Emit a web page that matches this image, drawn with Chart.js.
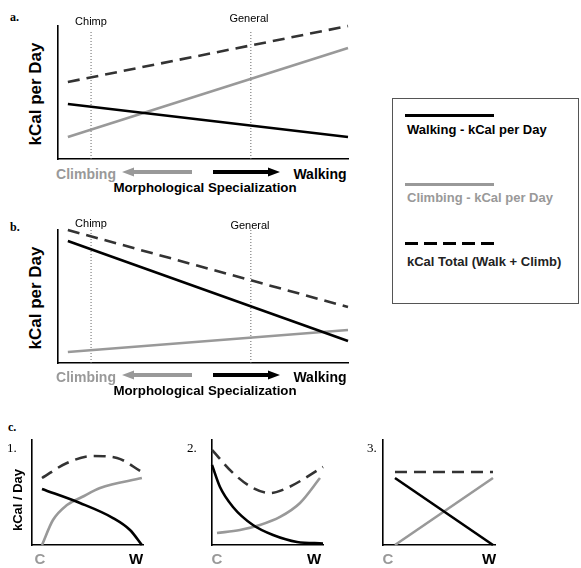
<!DOCTYPE html>
<html>
<head>
<meta charset="utf-8">
<script src="https://cdn.jsdelivr.net/npm/chart.js@4.4.1/dist/chart.umd.min.js"></script>
<style>
  body{margin:0;background:#fff;}
  #fig{position:relative;width:581px;height:568px;overflow:hidden;font-family:"Liberation Sans",Arial,sans-serif;}
  #fig canvas{position:absolute;}
  .t{position:absolute;white-space:nowrap;line-height:1;}
  .serif{font-family:"Liberation Serif","Times New Roman",serif;font-weight:bold;font-size:12px;}
  .b{font-weight:bold;}
  .gray{color:#999;}
  .rot{transform:translate(-50%,-50%) rotate(-90deg);}
  .ctr{transform:translate(-50%,-50%);}
  .leg{position:absolute;left:392px;top:98px;width:185px;height:204px;border:1px solid #555;}
  .ll{position:absolute;left:12px;width:89px;height:3px;}
  .lt{position:absolute;left:14px;font-weight:bold;font-size:13px;white-space:nowrap;line-height:1;}
</style>
</head>
<body>
<div id="fig">
  <canvas id="ca" width="306" height="146" style="left:50px;top:20px"></canvas>
  <canvas id="cb" width="306" height="146" style="left:50px;top:224px"></canvas>
  <canvas id="c1" width="127" height="121" style="left:24px;top:432px"></canvas>
  <canvas id="c2" width="127" height="121" style="left:204px;top:432px"></canvas>
  <canvas id="c3" width="128" height="121" style="left:375px;top:432px"></canvas>

  <!-- panel a text -->
  <div class="t serif" style="left:10px;top:11px">a.</div>
  <div class="t ctr" style="left:91px;top:21px;font-size:11px">Chimp</div>
  <div class="t ctr" style="left:249px;top:18px;font-size:11px">General</div>
  <div class="t b rot" style="left:35px;top:94px;font-size:17px">kCal per Day</div>
  <div class="t b gray ctr" style="left:86px;top:174px;font-size:14px">Climbing</div>
  <div class="t b ctr" style="left:320px;top:174px;font-size:14px">Walking</div>
  <div class="t b ctr" style="left:205px;top:188px;font-size:13.3px">Morphological Specialization</div>
  <svg style="position:absolute;left:120px;top:165px" width="165" height="14">
    <polygon points="2,7 14,2.5 14,5 72,5 72,9 14,9 14,11.5" fill="#999"/>
    <polygon points="160,7 148,2.5 148,5 93,5 93,9 148,9 148,11.5" fill="#000"/>
  </svg>

  <!-- panel b text -->
  <div class="t serif" style="left:10px;top:221px">b.</div>
  <div class="t ctr" style="left:91px;top:223px;font-size:11px">Chimp</div>
  <div class="t ctr" style="left:250px;top:225px;font-size:11px">General</div>
  <div class="t b rot" style="left:35px;top:298px;font-size:17px">kCal per Day</div>
  <div class="t b gray ctr" style="left:86px;top:377px;font-size:14px">Climbing</div>
  <div class="t b ctr" style="left:320px;top:377px;font-size:14px">Walking</div>
  <div class="t b ctr" style="left:205px;top:391px;font-size:13.3px">Morphological Specialization</div>
  <svg style="position:absolute;left:120px;top:368px" width="165" height="14">
    <polygon points="2,7 14,2.5 14,5 72,5 72,9 14,9 14,11.5" fill="#999"/>
    <polygon points="160,7 148,2.5 148,5 93,5 93,9 148,9 148,11.5" fill="#000"/>
  </svg>

  <!-- legend -->
  <div class="leg">
    <div class="ll" style="top:15px;background:#000"></div>
    <div class="lt" style="top:24px;color:#000">Walking - kCal per Day</div>
    <div class="ll" style="top:84px;background:#999"></div>
    <div class="lt" style="top:92px;color:#999">Climbing - kCal per Day</div>
    <div class="ll" style="top:143px;background:repeating-linear-gradient(90deg,#000 0 13px,transparent 13px 19px)"></div>
    <div class="lt" style="top:156px;color:#222">kCal Total (Walk + Climb)</div>
  </div>

  <!-- panel c text -->
  <div class="t serif" style="left:8px;top:421px">c.</div>
  <div class="t serif" style="left:7px;top:441px;font-weight:normal;font-size:13px">1.</div>
  <div class="t serif" style="left:187px;top:441px;font-weight:normal;font-size:13px">2.</div>
  <div class="t serif" style="left:367px;top:441px;font-weight:normal;font-size:13px">3.</div>
  <div class="t b rot" style="left:17px;top:500px;font-size:13px">kCal / Day</div>
  <div class="t b gray ctr" style="left:40px;top:558px;font-size:15px">C</div>
  <div class="t b ctr" style="left:136px;top:558px;font-size:15px">W</div>
  <div class="t b gray ctr" style="left:217px;top:558px;font-size:15px">C</div>
  <div class="t b ctr" style="left:314px;top:558px;font-size:15px">W</div>
  <div class="t b gray ctr" style="left:388px;top:558px;font-size:15px">C</div>
  <div class="t b ctr" style="left:489px;top:558px;font-size:15px">W</div>
</div>
<script>
// x positions along morphological specialization (0 = climbing, 100 = walking)
const xEnds = [3.4, 100];
const markerNames = ['Chimp', 'General'];
const markerX = [11.4, 66.5];

// panel a
const aWalk = [41.4, 16.5];
const aClimb = [16.5, 83.5];
const aTotal = [57.9, 100];
const aMarkerTop = 96;

// panel b
const bWalk = [91.7, 16.5];
const bClimb = [8.3, 24.8];
const bTotal = [100, 42.1];
const bMarkerTop = 100;

// panel c, [x, y]
const c1Walk  = [[9,53.3],[43.2,40],[73,25.7],[88.3,14.3],[99,0]];
const c1Climb = [[9,0],[18.9,23.8],[31.5,38.1],[45,45.7],[61.3,54.3],[99,63.8]];
const c1Total = [[9,63.8],[31.5,78.1],[55,84.8],[76.6,82.9],[99,69.5]];

const c2Walk  = [[0,76.2],[7.2,55.2],[18.9,36.2],[36.9,19],[55,9.5],[76.6,2.9],[100,1.5]];
const c2Climb = [[4.5,11.4],[25.2,14.3],[43.2,19],[61.3,26.7],[79.3,40],[97.3,63.8]];
const c2Total = [[0,90.5],[18.9,68.6],[36.9,54.3],[52.3,49.5],[67.6,54.3],[100,74.3]];

const c3Walk  = [[10.7,63.8],[98.2,0]];
const c3Climb = [[10.7,0],[98.2,63.8]];
const c3Total = [[10.7,69.5],[98.2,69.5]];

const BLACK = '#000', GRAY = '#999', DASH = '#333';

function pts(xs, ys){ return xs.map((x,i)=>({x, y: ys[i]})); }
function pairs(arr){ return arr.map(p=>({x:p[0], y:p[1]})); }

function line(data, color, dashed, curved){
  return {
    data, borderColor: color, borderWidth: 2.6, pointRadius: 0, fill: false, clip: false,
    borderDash: dashed ? [12,7] : [],
    cubicInterpolationMode: curved ? 'monotone' : 'default', borderCapStyle: 'butt'
  };
}
function marker(x, top){
  return { data: [{x, y:0},{x, y: top}], borderColor:'#666', borderWidth:1, borderDash:[1,2],
    pointRadius:0, fill:false, clip:false, order: 10 };
}
function axis(){
  return { type:'linear', min:0, max:100, grid:{display:false, drawTicks:false},
    ticks:{display:false}, border:{display:true, color:'#000', width:1.6} };
}
function makeChart(id, datasets, pad){
  new Chart(document.getElementById(id), {
    type:'line',
    data:{ datasets },
    options:{
      responsive:false, animation:false, devicePixelRatio:1,
      layout:{ padding: pad },
      plugins:{ legend:{display:false}, tooltip:{enabled:false} },
      scales:{ x: axis(), y: axis() }
    }
  });
}

const padAB = {left:8, right:8, top:6, bottom:7};
makeChart('ca', [
  line(pts(xEnds, aTotal), DASH, true),
  line(pts(xEnds, aWalk), BLACK),
  line(pts(xEnds, aClimb), GRAY),
  ...markerX.map(x=>marker(x, aMarkerTop))
], padAB);

makeChart('cb', [
  line(pts(xEnds, bTotal), DASH, true),
  line(pts(xEnds, bWalk), BLACK),
  line(pts(xEnds, bClimb), GRAY),
  ...markerX.map(x=>marker(x, bMarkerTop))
], padAB);

const padC = {left:8, right:8, top:8, bottom:8};
makeChart('c1', [
  line(pairs(c1Total), DASH, true, true),
  line(pairs(c1Walk), BLACK, false, true),
  line(pairs(c1Climb), GRAY, false, true)
], padC);
makeChart('c2', [
  line(pairs(c2Total), DASH, true, true),
  line(pairs(c2Walk), BLACK, false, true),
  line(pairs(c2Climb), GRAY, false, true)
], padC);
makeChart('c3', [
  line(pairs(c3Total), DASH, true),
  line(pairs(c3Walk), BLACK),
  line(pairs(c3Climb), GRAY)
], padC);
</script>
</body>
</html>
